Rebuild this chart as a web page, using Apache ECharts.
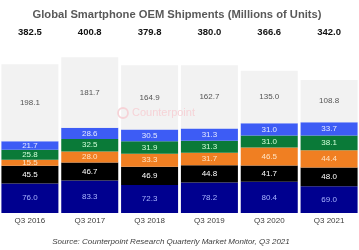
<!DOCTYPE html>
<html>
<head>
<meta charset="utf-8">
<script src="https://cdn.jsdelivr.net/npm/echarts@6/dist/echarts.min.js"></script>
<style>
  html, body { margin: 0; padding: 0; background: #fff; }
  #main { width: 359px; height: 250px; }
</style>
</head>
<body>
<div id="main"></div>
<script>
  // 季度
  var quarters = ['Q3 2016', 'Q3 2017', 'Q3 2018', 'Q3 2019', 'Q3 2020', 'Q3 2021'];
  var totals = ['382.5', '400.8', '379.8', '380.0', '366.6', '342.0'];
  // 各厂商出货量（百万台），自下而上
  var samsung = [76.0, 83.3, 72.3, 78.2, 80.4, 69.0];
  var apple = [45.5, 46.7, 46.9, 44.8, 41.7, 48.0];
  var xiaomi = [15.5, 28.0, 33.3, 31.7, 46.5, 44.4];
  var oppo = [25.8, 32.5, 31.9, 31.3, 31.0, 38.1];
  var vivo = [21.7, 28.6, 30.5, 31.3, 31.0, 33.7];
  var others = [198.1, 181.7, 164.9, 162.7, 135.0, 108.8];

  var stackOf = function (name, data, color, labelColor) {
    return {
      name: name,
      type: 'bar',
      stack: 'total',
      data: data,
      barWidth: 57,
      itemStyle: { color: color },
      label: {
        show: true,
        position: 'inside',
        fontSize: 8,
        fontFamily: 'Liberation Sans',
        color: labelColor,
        formatter: function (p) { return p.value.toFixed(1); }
      }
    };
  };

  var chart = echarts.init(document.getElementById('main'));
  chart.setOption({
    animation: false,
    title: {
      text: 'Global Smartphone OEM Shipments (Millions of Units)',
      left: 172,
      textAlign: 'center',
      top: 4,
      textStyle: { fontSize: 11.2, fontWeight: 'bold', color: '#595959', fontFamily: 'Liberation Sans' }
    },
    grid: { left: -3, width: 364, top: 38, bottom: 37 },
    xAxis: [{
      type: 'category',
      data: quarters,
      axisLine: { show: false },
      axisTick: { show: false },
      axisLabel: { fontSize: 8, color: '#404040', fontFamily: 'Liberation Sans', margin: 4 }
    }, {
      type: 'category',
      position: 'top',
      data: totals,
      axisLine: { show: false },
      axisTick: { show: false },
      axisLabel: { fontSize: 9.5, fontWeight: 'bold', color: '#111', fontFamily: 'Liberation Sans', margin: 1 }
    }],
    yAxis: { type: 'value', min: 0, max: 450, show: false },
    graphic: [{
      type: 'circle',
      shape: { cx: 123, cy: 113, r: 5 },
      style: { fill: 'none', stroke: '#f6d3d7', lineWidth: 1.8 },
      z: 100
    }, {
      type: 'text',
      z: 100,
      style: {
        x: 132, y: 113, text: 'Counterpoint', fontSize: 11, fill: '#f6d3d7',
        fontFamily: 'Liberation Sans', verticalAlign: 'middle'
      }
    }, {
      type: 'text',
      style: {
        x: 171, y: 242,
        text: 'Source: Counterpoint Research Quarterly Market Monitor, Q3 2021',
        fontSize: 8, fontStyle: 'italic', fill: '#404040', fontFamily: 'Liberation Sans',
        align: 'center', verticalAlign: 'middle'
      }
    }],
    series: [
      stackOf('Samsung', samsung, '#00008f', '#a9b4ff'),
      stackOf('Apple', apple, '#000000', '#ffffff'),
      stackOf('Xiaomi', xiaomi, '#f07f22', '#ffe3c4'),
      stackOf('OPPO', oppo, '#0a7a38', '#d2ffd9'),
      stackOf('vivo', vivo, '#3d5cf5', '#e4e9ff'),
      stackOf('Others', others, '#f2f2f2', '#555555')
    ]
  });
</script>
</body>
</html>
